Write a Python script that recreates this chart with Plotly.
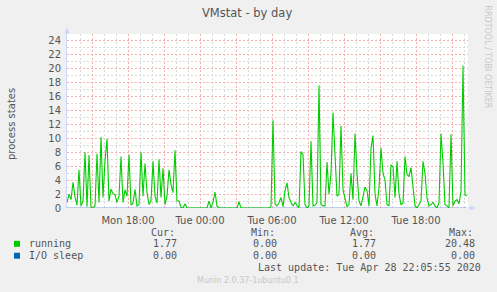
import plotly.graph_objects as go
import pandas as pd

# ---------------- data ----------------
start_time = "2020-04-27 12:55"
sample_step = "10min"

running = [
    0.8, 2.0, 1.2, 3.7, 1.6, 0.4, 5.5, 0.3, 1.0, 8.0,
    0.2, 7.6, 0.0, 0.0, 0.3, 7.8, 0.8, 10.2, 1.5, 6.8,
    9.9, 1.0, 2.7, 2.1, 1.9, 0.8, 1.7, 7.4, 0.8, 2.6,
    1.7, 7.6, 0.4, 0.7, 2.7, 0.3, 0.5, 8.0, 1.7, 6.4,
    2.2, 0.5, 1.0, 6.7, 1.7, 0.7, 7.0, 1.5, 5.7, 0.5,
    1.7, 5.5, 3.4, 2.2, 8.3, 1.0, 1.0, 0.1, 0.0, 0.6,
    0.0, 0.0, 0.0, 0.0, 0.0, 0.0, 0.0, 0.0, 0.0, 0.0,
    0.0, 1.0, 0.0, 0.8, 2.3, 0.3, 0.0, 0.0, 0.0, 0.0,
    0.0, 0.0, 0.0, 0.0, 0.0, 0.0, 0.9, 0.0, 0.0, 0.0,
    0.0, 0.0, 0.0, 0.0, 0.0, 0.0, 0.0, 0.0, 0.0, 0.0,
    0.0, 0.0, 0.2, 12.6, 0.6, 0.3, 0.8, 1.5, 0.2, 2.5,
    3.6, 1.5, 0.8, 0.3, 0.8, 0.3, 0.0, 8.1, 7.7, 0.5,
    0.0, 0.3, 9.6, 0.3, 0.4, 0.8, 17.6, 0.5, 0.3, 0.3,
    6.6, 2.0, 5.0, 13.7, 8.6, 1.7, 2.0, 11.8, 2.6, 1.5,
    0.2, 0.5, 5.0, 1.2, 10.7, 5.0, 1.0, 0.3, 1.5, 3.0,
    2.5, 0.3, 8.6, 10.4, 2.0, 0.3, 2.9, 8.6, 5.0, 4.0,
    0.5, 0.3, 6.2, 6.0, 1.5, 6.7, 2.0, 0.5, 0.7, 7.4,
    4.8, 4.5, 5.8, 2.5, 0.3, 0.0, 0.5, 1.0, 6.7, 5.0,
    1.4, 0.3, 0.5, 0.8, 0.3, 0.0, 0.8, 10.7, 6.5, 0.5,
    0.3, 0.0, 10.6, 0.3, 1.0, 1.2, 0.6, 2.4, 20.48, 1.9,
    1.77,
]
io_sleep = [0.0] * len(running)

series_names = ["running", "I/O sleep"]
series_colors = ["#00CC00", "#0066B3"]
stat_headers = ["Cur:", "Min:", "Avg:", "Max:"]
running_stats = ["1.77", "0.00", "1.77", "20.48"]
io_sleep_stats = ["0.00", "0.00", "0.00", "0.00"]

x_range = ["2020-04-27 12:55", "2020-04-28 22:20"]
tick_vals = ["2020-04-27 15:00", "2020-04-27 18:00", "2020-04-27 21:00",
             "2020-04-28 00:00", "2020-04-28 03:00", "2020-04-28 06:00",
             "2020-04-28 09:00", "2020-04-28 12:00", "2020-04-28 15:00",
             "2020-04-28 18:00", "2020-04-28 21:00"]
tick_text = ["", "Mon 18:00", "", "Tue 00:00", "", "Tue 06:00",
             "", "Tue 12:00", "", "Tue 18:00", ""]
y_ticks = [0, 2, 4, 6, 8, 10, 12, 14, 16, 18, 20, 22, 24]

title_text = "VMstat - by day"
y_title = "process states"
last_update = "Last update: Tue Apr 28 22:05:55 2020"
munin_text = "Munin 2.0.37-1ubuntu0.1"
rrd_text = "RRDTOOL / TOBI OETIKER"

# ---------------- layout geometry ----------------
W, H = 497, 292
L, R, T, B = 67, 29, 33.5, 83.5
PW, PH = W - L - R, H - T - B


def px(x):
    return (x - L) / PW


def py(y):
    return (H - B - y) / PH


times = pd.date_range(start_time, periods=len(running), freq=sample_step)

fig = go.Figure()
fig.add_trace(go.Scatter(x=times, y=io_sleep, mode="lines",
                         line=dict(color="#7F9FDC", width=1),
                         hoverinfo="skip", showlegend=False))
fig.add_trace(go.Scatter(x=times, y=running, mode="lines",
                         line=dict(color=series_colors[0], width=1.1),
                         showlegend=False))

sans = "DejaVu Sans"
mono = "DejaVu Sans Mono"
grid_red = "#F9ADAD"
grid_gray = "#D9D9D9"

fig.update_layout(
    width=W, height=H,
    margin=dict(l=L, r=R, t=T, b=B),
    paper_bgcolor="#F0F0F0",
    plot_bgcolor="#FFFFFF",
    showlegend=False,
    font=dict(family=sans, size=10, color="#555555"),
    xaxis=dict(
        type="date", range=x_range,
        tickmode="array", tickvals=tick_vals, ticktext=tick_text,
        showgrid=True, gridcolor=grid_red, griddash="2px,2px", gridwidth=1,
        minor=dict(dtick=3600000, tick0="2020-04-27 00:00", showgrid=True,
                   gridcolor=grid_gray, griddash="2px,2px", gridwidth=1),
        ticks="outside", ticklen=3, tickcolor="rgba(0,0,0,0)",
        showline=False, zeroline=False,
        tickfont=dict(family=sans, size=10, color="#555555"),
    ),
    yaxis=dict(
        range=[0, 25], tickmode="array", tickvals=y_ticks,
        showgrid=True, gridcolor=grid_red, griddash="2px,2px", gridwidth=1,
        minor=dict(dtick=1, tick0=0, showgrid=True,
                   gridcolor=grid_gray, griddash="2px,2px", gridwidth=1),
        ticks="outside", ticklen=3, tickcolor="rgba(0,0,0,0)",
        showline=True, linecolor="#CFD6F8", linewidth=1,
        zeroline=False,
        tickfont=dict(family=sans, size=10, color="#555555"),
    ),
)

shapes = []
# axis arrows
shapes.append(dict(type="path", xref="paper", yref="paper",
                   path=f"M {px(64.5)} {py(33)} L {px(69.5)} {py(33)} L {px(67)} {py(27)} Z",
                   fillcolor="#CFD6F8", line=dict(width=0)))
shapes.append(dict(type="line", xref="paper", yref="paper",
                   x0=px(468), x1=px(471), y0=py(208.5), y1=py(208.5),
                   line=dict(color="#CFD6F8", width=1)))
shapes.append(dict(type="path", xref="paper", yref="paper",
                   path=f"M {px(470)} {py(206)} L {px(470)} {py(211)} L {px(476)} {py(208.5)} Z",
                   fillcolor="#CFD6F8", line=dict(width=0)))
# legend squares
for i, c in enumerate(series_colors):
    yc = 244.5 + 12 * i
    shapes.append(dict(type="rect", xref="paper", yref="paper",
                       x0=px(14), x1=px(20), y0=py(yc - 3), y1=py(yc + 3),
                       fillcolor=c, line=dict(width=0)))
fig.update_layout(shapes=shapes)

ann = []


def text(x, y, s, size=10, family=mono, color="#555555", xanchor="left", angle=0):
    ann.append(dict(x=px(x), y=py(y), xref="paper", yref="paper", text=s,
                    showarrow=False, xanchor=xanchor, yanchor="middle",
                    textangle=angle,
                    font=dict(family=family, size=size, color=color)))


text(247, 12.5, title_text, size=11.5, family=sans, xanchor="center")
text(12, 124, y_title, size=10, family=sans, xanchor="center", angle=-90)
text(488, 56, rrd_text, size=8, family=sans, color="#C8C8C8", xanchor="center", angle=90)

header_left = [149, 249, 348, 447]
value_right = [178.5, 278.5, 377.5, 477]
for hx, h in zip(header_left, stat_headers):
    text(hx, 233, h)
text(26.5, 244.5, series_names[0])
text(26.5, 256.5, series_names[1])
for vx, v in zip(value_right, running_stats):
    text(vx, 244.5, v, xanchor="right")
for vx, v in zip(value_right, io_sleep_stats):
    text(vx, 256.5, v, xanchor="right")
text(482.5, 268.5, last_update, xanchor="right")
text(247.5, 281, munin_text, size=8, family=sans, color="#C8C8C8", xanchor="center")

fig.update_layout(annotations=ann)

fig.write_html("out.html")
